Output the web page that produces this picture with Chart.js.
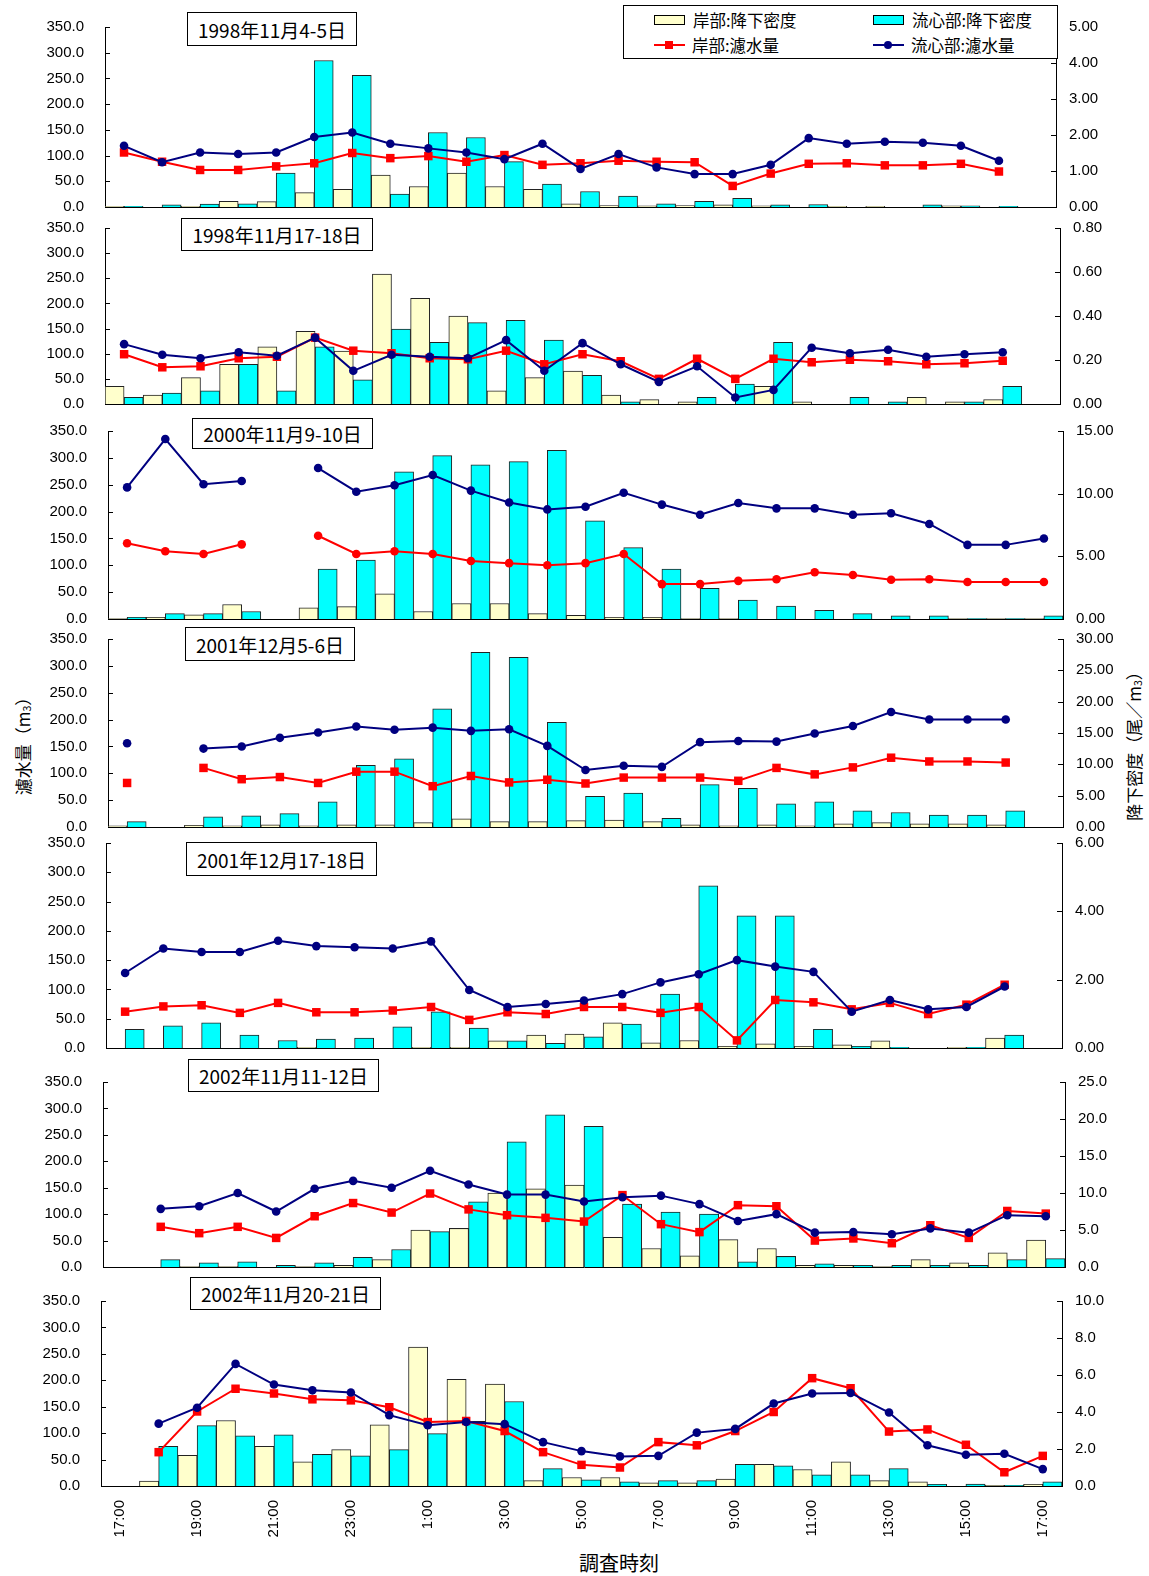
<!DOCTYPE html>
<html><head><meta charset="utf-8">
<script src="https://cdn.jsdelivr.net/npm/chart.js@4"></script>
<style>
body{margin:0;background:#fff;width:1149px;height:1576px;position:relative;overflow:hidden;font-family:"Liberation Sans",Arial,sans-serif;}
canvas{position:absolute;left:0;}
.tbox{position:absolute;border:1px solid #000;background:#fff;font-family:"Noto Sans CJK JP";font-size:19px;display:flex;align-items:center;justify-content:center;z-index:5;box-sizing:border-box;white-space:nowrap;color:#000;}
.legend{position:absolute;left:623px;top:5px;width:435px;height:54px;border:1px solid #000;background:#fff;z-index:6;box-sizing:border-box;font-family:"Noto Sans CJK JP";font-size:16.5px;color:#000;}
.li{position:absolute;display:flex;align-items:center;white-space:nowrap;height:20px;line-height:20px;}
.sw{display:inline-block;width:29px;height:8px;border:1px solid #000;margin-right:8px;}
.ln{display:inline-block;position:relative;width:31px;height:2px;margin-right:7px;}
.mk{position:absolute;left:11px;top:-3px;width:8px;height:8px;}
.ytitle{position:absolute;font-family:"Noto Sans CJK JP";font-size:17px;white-space:nowrap;transform:translate(-50%,-50%) rotate(-90deg);color:#000;}
.sub{font-size:0.62em;vertical-align:-0.15em;}
.xtitle{position:absolute;font-family:"Noto Sans CJK JP";font-size:20px;white-space:nowrap;transform:translate(-50%,-50%);color:#000;}
</style></head><body>

<div class="legend">
  <div class="li" style="left:30px;top:4px;"><span class="sw" style="background:#FFFFCC"></span>岸部:降下密度</div>
  <div class="li" style="left:249px;top:4px;"><span class="sw" style="background:#00FFFF"></span>流心部:降下密度</div>
  <div class="li" style="left:30px;top:29px;"><span class="ln" style="background:#FF0000"><span class="mk" style="background:#FF0000"></span></span>岸部:濾水量</div>
  <div class="li" style="left:249px;top:29px;"><span class="ln" style="background:#000080"><span class="mk" style="background:#000080;border-radius:50%"></span></span>流心部:濾水量</div>
</div>

<div class="ytitle" style="left:22px;top:742px;">濾水量（m<span class="sub">3</span>）</div>
<div class="ytitle" style="left:1133px;top:742px;">降下密度（尾／m<span class="sub">3</span>）</div>
<div class="xtitle" style="left:619px;top:1562px;">調査時刻</div>

<script>
// ---------- data ----------
const timeLabels = ['17:00','18:00','19:00','20:00','21:00','22:00','23:00','0:00','1:00','2:00','3:00','4:00','5:00','6:00','7:00','8:00','9:00','10:00','11:00','12:00','13:00','14:00','15:00','16:00','17:00'];
const panelTitles = ['1998年11月4-5日','1998年11月17-18日','2000年11月9-10日','2001年12月5-6日','2001年12月17-18日','2002年11月11-12日','2002年11月20-21日'];
const volumeTicks = [0,50,100,150,200,250,300,350];
const densityMax = [5, 0.8, 15, 30, 6, 25, 10];
const densityStep = [1, 0.2, 5, 5, 2, 5, 2];
const densityDecimals = [2, 2, 2, 2, 2, 1, 1];

// 1998/11/4-5
const shoreDens1  = [0.02,null,0.02,0.16,0.15,0.40,0.49,0.89,0.57,0.94,0.57,0.49,0.09,0.04,0.03,0.04,0.06,0.03,null,0.02,0.02,null,0.03,null,null];
const centerDens1 = [0.02,0.06,0.08,0.09,0.94,4.07,3.66,0.36,2.07,1.93,1.26,0.64,0.43,0.30,0.09,0.16,0.24,0.06,0.07,null,null,0.06,0.03,0.02,null];
const shoreVol1   = [106,88,72,72,79,85,105,95,99,88,101,82,85,90,88,87,41,65,84,85,81,81,84,69,null];
const centerVol1  = [119,87,106,103,106,136,145,123,114,106,93,123,74,103,77,64,64,82,134,123,127,125,119,90,null];
// 1998/11/17-18
const shoreDens2  = [0.08,0.04,0.12,0.18,0.26,0.33,0.24,0.59,0.48,0.40,0.06,0.12,0.15,0.04,0.02,0.01,null,0.08,0.01,null,null,0.03,0.01,0.02,null];
const centerDens2 = [0.03,0.05,0.06,0.18,0.06,0.26,0.11,0.34,0.28,0.37,0.38,0.29,0.13,0.01,null,0.03,0.09,0.28,null,0.03,0.01,null,0.01,0.08,null];
const shoreVol2   = [99,73,75,91,94,132,106,101,91,89,106,79,99,85,50,90,50,90,83,88,85,79,81,86,null];
const centerVol2  = [119,98,91,103,96,132,66,98,94,91,127,66,121,79,44,75,13,28,112,101,108,94,99,103,null];
// 2000/11/9-10
const shoreDens3  = [0.04,0.13,0.34,1.16,null,0.90,0.99,2.01,0.60,1.24,1.24,0.43,0.30,0.13,0.13,0.04,0.04,null,null,null,null,null,0.04,0.04,0.04];
const centerDens3 = [0.13,0.43,0.43,0.60,null,3.99,4.71,11.74,13.03,12.30,12.56,13.46,7.84,5.70,3.99,2.44,1.50,1.03,0.69,0.43,0.26,0.26,0.04,0.04,0.26];
const shoreVol3   = [141,126,121,139,null,155,121,126,121,108,104,100,104,121,65,65,71,74,87,82,73,74,69,69,69];
const centerVol3  = [245,335,251,257,null,281,237,249,268,239,217,204,209,235,213,194,216,206,206,194,197,177,138,138,150];
// 2001/12/5-6
const shoreDens4  = [0.17,null,0.26,0.17,0.34,0.17,0.34,0.34,0.69,1.29,0.86,0.86,1.03,1.11,0.86,0.34,0.17,0.34,0.17,0.51,0.69,0.51,0.51,0.34,null];
const centerDens4 = [0.86,null,1.63,1.80,2.14,4.03,9.86,10.89,18.86,27.86,27.09,16.71,4.89,5.40,1.37,6.77,6.17,3.69,4.03,2.57,2.31,1.89,1.89,2.57,null];
const shoreVol4   = [82,null,110,89,93,82,103,103,76,95,83,88,81,92,92,92,86,110,98,111,129,122,122,120,null];
const centerVol4  = [156,null,146,150,166,176,187,181,185,179,182,151,106,114,112,158,160,159,174,188,214,200,200,200,null];
// 2001/12/17-18
const shoreDens5  = [null,null,null,null,null,0.02,null,null,0.02,0.02,0.21,0.38,0.41,0.74,0.15,0.22,0.05,0.12,0.05,0.09,0.21,null,0.02,0.29,null];
const centerDens5 = [0.55,0.65,0.74,0.38,0.22,0.26,0.29,0.62,1.06,0.58,0.21,0.14,0.33,0.70,1.58,4.75,3.87,3.87,0.55,0.05,0.02,null,0.02,0.38,null];
const shoreVol5   = [62,71,73,60,77,61,61,64,70,48,61,58,70,70,60,70,13,82,78,66,77,58,74,108,null];
const centerVol5  = [128,170,164,164,183,174,172,170,182,99,70,75,81,92,112,126,150,139,130,62,82,66,70,105,null];
// 2002/11/11-12
const shoreDens6  = [null,null,0.07,0.07,null,0.07,0.21,1.00,5.00,5.21,10.00,10.57,11.07,4.00,2.50,1.50,3.71,2.50,0.21,0.21,0.07,1.00,0.57,1.93,3.64];
const centerDens6 = [null,1.00,0.57,0.71,0.21,0.57,1.29,2.36,4.79,8.79,16.93,20.57,19.00,8.50,7.43,7.14,0.71,1.43,0.43,0.21,0.21,0.21,0.21,1.00,1.14];
const shoreVol6   = [null,76,64,76,55,96,121,103,139,109,98,93,86,136,81,66,117,115,50,54,45,79,55,106,101];
const centerVol6  = [null,110,115,140,105,148,163,150,182,156,137,137,124,132,135,119,87,100,65,66,62,73,65,98,96];
// 2002/11/20-21
const shoreDens7  = [null,0.26,1.66,3.54,2.14,1.31,1.97,3.31,7.51,5.77,5.51,0.29,0.46,0.46,0.17,0.17,0.37,1.17,0.89,1.31,0.29,0.23,null,0.03,0.09];
const centerDens7 = [null,2.14,3.26,2.71,2.77,1.71,1.63,1.97,2.83,3.49,4.57,0.94,0.34,0.23,0.29,0.29,1.17,1.09,0.60,0.60,0.94,0.09,0.11,0.03,0.23];
const shoreVol7   = [null,64,141,184,175,164,162,149,121,123,104,64,40,35,83,77,104,140,204,185,103,107,78,26,57];
const centerVol7  = [null,118,148,231,192,181,177,134,115,121,117,83,66,56,57,101,108,156,175,176,139,77,59,61,32];

const shoreDens  = [shoreDens1,shoreDens2,shoreDens3,shoreDens4,shoreDens5,shoreDens6,shoreDens7];
const centerDens = [centerDens1,centerDens2,centerDens3,centerDens4,centerDens5,centerDens6,centerDens7];
const shoreVol   = [shoreVol1,shoreVol2,shoreVol3,shoreVol4,shoreVol5,shoreVol6,shoreVol7];
const centerVol  = [centerVol1,centerVol2,centerVol3,centerVol4,centerVol5,centerVol6,centerVol7];

// ---------- layout (pixels) ----------
const panelLayout = [
  {top:27,  bottom:207,  left:105, right:1056, box:[187,12,170,34], shorePt:'rect'},
  {top:228, bottom:404,  left:105, right:1060, box:[181,218,192,33], shorePt:'rect'},
  {top:431, bottom:619,  left:108, right:1063, box:[192,418,181,31], shorePt:'circle'},
  {top:639, bottom:827,  left:108, right:1063, box:[185,627,170,34], shorePt:'rect'},
  {top:843, bottom:1048, left:106, right:1062, box:[186,842,191,34], shorePt:'rect'},
  {top:1082,bottom:1267, left:103, right:1065, box:[188,1059,191,33], shorePt:'rect'},
  {top:1301,bottom:1486, left:101, right:1062, box:[190,1277,191,33], shorePt:'rect'}
];
const RED='#FF0000', NAVY='#000080', YEL='#FFFFCC', CYAN='#00FFFF';
const tickFont = {family:'"Liberation Sans", Arial, sans-serif', size:15};

const inwardTicks = {
  id:'inwardTicks',
  afterDatasetsDraw(chart){
    const ctx=chart.ctx, ca=chart.chartArea;
    ctx.save(); ctx.strokeStyle='#000'; ctx.lineWidth=1;
    [['y',ca.left,1],['y2',ca.right,-1]].forEach(([id,x,dir])=>{
      const s=chart.scales[id];
      s.ticks.forEach(t=>{
        const py=Math.round(s.getPixelForValue(t.value))+0.5;
        ctx.beginPath(); ctx.moveTo(x,py); ctx.lineTo(x+dir*5,py); ctx.stroke();
      });
    });
    ctx.restore();
  }
};

function makeConfig(idx, L, xHeight){
  const isLast = idx===6;
  const dec=densityDecimals[idx];
  return {
    type:'bar',
    data:{labels:timeLabels, datasets:[
      {type:'line',label:'流心部:濾水量',data:centerVol[idx],yAxisID:'y',borderColor:NAVY,backgroundColor:NAVY,pointStyle:'circle',pointRadius:4.3,pointBorderWidth:0,borderWidth:2,order:0,spanGaps:false},
      {type:'line',label:'岸部:濾水量',data:shoreVol[idx],yAxisID:'y',borderColor:RED,backgroundColor:RED,pointStyle:L.shorePt,pointRadius:L.shorePt==='rect'?6:4.3,pointBorderWidth:0,borderWidth:2,order:1,spanGaps:false},
      {type:'bar',label:'岸部:降下密度',data:shoreDens[idx],yAxisID:'y2',backgroundColor:YEL,borderColor:'#222',borderWidth:1,order:3,barPercentage:1,categoryPercentage:1},
      {type:'bar',label:'流心部:降下密度',data:centerDens[idx],yAxisID:'y2',backgroundColor:CYAN,borderColor:'#222',borderWidth:1,order:3,barPercentage:1,categoryPercentage:1}
    ]},
    options:{
      responsive:false, animation:false, devicePixelRatio:1,
      layout:{padding:0},
      plugins:{legend:{display:false},tooltip:{enabled:false}},
      scales:{
        x:{type:'category',offset:true,grid:{display:false,drawTicks:false},border:{display:true,color:'#000',width:1},
           ticks:{display:isLast,autoSkip:false,maxRotation:90,minRotation:90,padding:14,font:tickFont,color:'#000',
                  callback:(v,i)=> i%2===0 ? timeLabels[i] : ''},
           afterFit:s=>{s.height=xHeight;}},
        y:{position:'left',min:0,max:350,afterBuildTicks:s=>{s.ticks=volumeTicks.map(v=>({value:v}));},
           ticks:{callback:v=>Number(v).toFixed(1),padding:21,font:tickFont,color:'#000'},
           grid:{display:false,drawTicks:false},border:{display:true,color:'#000',width:1},
           afterFit:s=>{s.width=L.left;}},
        y2:{position:'right',min:0,max:densityMax[idx],
           ticks:{stepSize:densityStep[idx],callback:v=>Number(v).toFixed(dec),padding:13,font:tickFont,color:'#000'},
           grid:{display:false,drawTicks:false},border:{display:true,color:'#000',width:1},
           afterFit:s=>{s.width=1149-L.right;}}
      }
    },
    plugins:[inwardTicks]
  };
}

function addCanvas(h){
  const cv=document.createElement('canvas');
  cv.width=1149; cv.height=h;
  cv.style.width='1149px'; cv.style.height=h+'px';
  document.body.appendChild(cv);
  return cv;
}

panelLayout.forEach((L,idx)=>{
  const b=L.box;
  const tb=document.createElement('div');
  tb.className='tbox';
  tb.style.left=b[0]+'px'; tb.style.top=b[1]+'px'; tb.style.width=b[2]+'px'; tb.style.height=b[3]+'px';
  tb.textContent=panelTitles[idx];
  document.body.appendChild(tb);

  const xHeight = idx===6 ? 64 : 2;
  const want = L.bottom-L.top;
  // measuring pass
  const h0 = want + 120;
  const cv0 = addCanvas(h0);
  const c0 = new Chart(cv0, makeConfig(idx,L,xHeight));
  const topOff = c0.chartArea.top, botOff = h0 - c0.chartArea.bottom;
  c0.destroy(); cv0.remove();
  // final pass
  const h = want + topOff + botOff;
  const cv = addCanvas(h);
  cv.style.top=(L.top-topOff)+'px';
  new Chart(cv, makeConfig(idx,L,xHeight));
});
</script>
</body></html>
